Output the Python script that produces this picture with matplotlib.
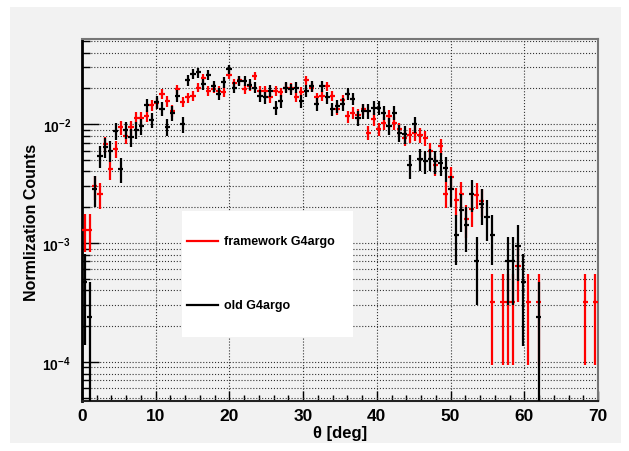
import numpy as np
import matplotlib
matplotlib.use('Agg')
from matplotlib import pyplot as plt
from matplotlib.patches import Rectangle
from matplotlib.lines import Line2D

plt.rcParams['font.family'] = ['Liberation Sans', 'DejaVu Sans']
plt.rcParams['mathtext.fontset'] = 'custom'
plt.rcParams['mathtext.bf'] = 'Liberation Sans:bold'
plt.rcParams['mathtext.rm'] = 'Liberation Sans:bold'

# histogram: 100 bins of 0.7 deg over 0-70 deg, values in units of 1e-3
bin_width = 0.7
theta = np.arange(100) * bin_width + bin_width / 2

framework = [
    1.29, 1.29, 3.0, 2.58, 6.8, 4.2, 6.2, 9.4, 8.0, 9.4,
    11.3, 11.2, 11.7, 14.5, 15.0, 17.9, 15.6, 13.0, 19.7, 15.4,
    16.8, 17.3, 20.3, 24.3, 19.1, 19.9, 19.0, 18.7, 25.9, 22.1,
    23.4, 19.7, 21.0, 25.4, 19.1, 19.1, 16.8, 19.1, 18.5, 20.3,
    20.3, 17.0, 18.8, 23.4, 20.3, 16.8, 17.3, 21.0, 17.3, 13.5,
    16.0, 11.6, 12.5, 12.0, 13.3, 8.5, 11.0, 9.1, 10.3, 11.7,
    10.3, 9.1, 7.7, 8.1, 8.4, 8.1, 7.7, 6.0, 4.5, 6.5,
    2.6, 3.6, 2.3, 2.6, 1.6, 1.92, 2.56, 2.24, 0, 0.32,
    0, 0.32, 0.32, 0.32, 0.64, 0, 0.32, 0, 0.32, 0,
    0, 0, 0, 0, 0, 0, 0, 0.32, 0, 0.32,
]
old = [
    0.474, 0.237, 2.85, 5.4, 6.4, 6.0, 8.8, 4.2, 9.0, 7.8,
    9.0, 9.6, 14.4, 10.8, 15.4, 13.5, 9.5, 12.4, 17.3, 10.0,
    23.4, 26.6, 27.2, 21.7, 25.8, 21.0, 17.9, 22.4, 29.0, 20.3,
    23.2, 23.2, 21.5, 20.3, 17.3, 16.8, 19.1, 13.8, 15.7, 20.3,
    19.7, 20.3, 15.7, 19.1, 21.0, 14.7, 21.0, 16.8, 13.4, 14.2,
    14.7, 17.9, 16.4, 11.3, 12.9, 12.9, 13.8, 13.8, 12.5, 9.7,
    12.5, 8.5, 8.2, 4.5, 10.0, 5.1, 4.9, 5.1, 4.9, 4.7,
    4.3, 2.84, 1.18, 1.9, 1.42, 2.6, 0.71, 2.13, 1.66, 1.18,
    0, 0, 0.71, 0.71, 0.95, 0.47, 0, 0, 0.237, 0,
    0, 0, 0, 0, 0, 0, 0, 0, 0, 0,
]
# weight of one entry (1e-3 units), errors are sqrt(N)
framework_unit = 0.16
old_unit = 0.237

x_ticks = [0, 10, 20, 30, 40, 50, 60, 70]
y_ticks = [1e-4, 1e-3, 1e-2]
y_tick_labels = [r'$\mathbf{10^{-4}}$', r'$\mathbf{10^{-3}}$', r'$\mathbf{10^{-2}}$']

W, H = 629, 452
fig = plt.figure(figsize=(W / 100, H / 100), dpi=100)
fig.patch.set_facecolor('white')
fig.patches.append(Rectangle((10 / W, 8 / H), 611 / W, 436 / H, transform=fig.transFigure,
                             facecolor='#f2f2f2', edgecolor='none', zorder=-10))

ax = fig.add_axes([82 / W, 1 - 402 / H, 516 / W, 362 / H])
ax.set_facecolor('#f2f2f2')


def draw(values, unit, color, z):
    v = np.array(values)
    keep = v > 0
    v = v[keep]
    x = theta[keep]
    err = np.sqrt(v * unit)
    lo = np.maximum(v - err, 1e-6)
    hi = v + err
    y = v * 1e-3
    ax.errorbar(x, y, yerr=[y - lo * 1e-3, hi * 1e-3 - y], xerr=bin_width / 2,
                fmt='none', ecolor=color, elinewidth=1.6, capsize=0, zorder=z)


draw(framework, framework_unit, 'red', 3)
draw(old, old_unit, 'black', 4)

ax.set_yscale('log')
ax.set_xlim(0, 70)
ax.set_ylim(4.7e-5, 0.052)

ax.set_xticks(x_ticks)
ax.set_xticklabels([str(t) for t in x_ticks], fontsize=12.5, fontweight='bold')
ax.set_xticks(np.arange(0, 71, 2), minor=True)
ax.set_yticks(y_ticks)
ax.set_yticklabels(y_tick_labels, fontsize=10)
ax.tick_params(axis='x', which='major', direction='in', length=7, width=1, pad=5)
ax.tick_params(axis='x', which='minor', direction='in', length=4, width=1)
ax.tick_params(axis='y', which='major', direction='in', length=12, width=1, pad=8)
ax.tick_params(axis='y', which='minor', direction='in', length=6, width=1)
ax.yaxis.set_minor_formatter(matplotlib.ticker.NullFormatter())

ax.grid(True, axis='x', which='major', linestyle=':', color='#333333', lw=0.8)
ax.grid(True, axis='y', which='both', linestyle=':', color='#333333', lw=0.8)
ax.set_axisbelow(True)

ax.spines['left'].set_linewidth(2)
ax.spines['bottom'].set_linewidth(1.5)
ax.spines['bottom'].set_color('#222222')
for s in ['top', 'right']:
    ax.spines[s].set_color('#777777')
    ax.spines[s].set_linewidth(1.5)

fig.text(32 / W, 1 - 222 / H, 'Normlization Counts', rotation=90, ha='center', va='center',
         fontsize=11.5, fontweight='bold')
fig.text(340 / W, 1 - 434 / H, 'θ [deg]', ha='center', va='center', fontsize=12, fontweight='bold')

# legend box
ax.add_patch(Rectangle((0.194, 0.177), 0.331, 0.348, transform=ax.transAxes,
                       facecolor='white', edgecolor='none', zorder=6))
ax.add_line(Line2D([0.204, 0.264], [0.443, 0.443], transform=ax.transAxes, color='red', lw=1.6, zorder=7))
ax.add_line(Line2D([0.204, 0.264], [0.264, 0.264], transform=ax.transAxes, color='black', lw=1.6, zorder=7))
ax.text(0.276, 0.443, 'framework G4argo', transform=ax.transAxes, va='center', fontsize=9,
        fontweight='bold', zorder=7)
ax.text(0.276, 0.264, 'old G4argo', transform=ax.transAxes, va='center', fontsize=9,
        fontweight='bold', zorder=7)

fig.savefig('out.png', dpi=100)
